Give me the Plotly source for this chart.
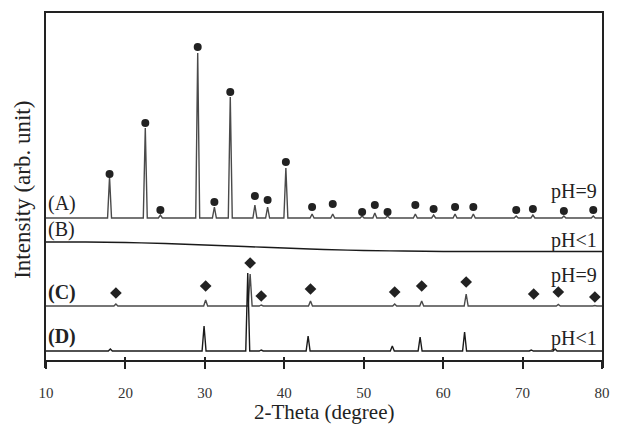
import plotly.graph_objects as go

# ---------------- data ----------------
# pattern (A) pH=9 : peak positions (2-theta), heights, and marker heights above baseline
a_peak_x = [18.0, 22.5, 24.4, 29.1, 31.2, 33.2, 36.3, 37.9, 40.2, 43.5, 46.1, 49.8,
            51.4, 53.0, 56.5, 58.8, 61.5, 63.8, 69.2, 71.3, 75.2, 78.9]
a_peak_h = [41, 90, 3, 165, 11, 121, 13, 11, 50, 4, 4, 2,
            5, 2, 4, 3, 4, 4, 2, 3, 2, 2]
a_mark_h = [44, 95, 8, 171, 16, 126, 22, 18, 56, 11, 14, 6,
            13, 6, 13, 9, 11, 11, 8, 9, 7, 8]

# pattern (B) pH<1 : amorphous, smooth background
b_x = [10, 15, 20, 25, 30, 35, 40, 45, 50, 55, 60, 65, 70, 75, 80]
b_y = [0, 0, -0.5, -1.5, -3, -4.5, -6, -7.5, -8.5, -9, -9.5, -9.5, -9.5, -9.5, -9.5]

# pattern (C) pH=9
c_peak_x = [18.8, 30.1, 35.7, 37.1, 43.3, 53.9, 57.3, 62.9, 71.4, 74.5, 79.1]
c_peak_h = [2, 6, 32, 1, 5, 2, 5, 12, 0.5, 1.5, 0.5]
c_mark_h = [13, 20, 43, 10, 17, 14, 20, 24, 12, 14, 9]

# pattern (D) pH<1
d_peak_x = [18.1, 29.9, 35.4, 37.1, 43.0, 53.6, 57.1, 62.7, 71.1, 74.1, 79.1]
d_peak_h = [2, 25, 78, 1, 15, 5, 14, 19, 1, 2, 0.5]

# vertical offsets of the stacked patterns (arbitrary units)
offsets = {"A": 150, "B": 126, "C": 62, "D": 17}

x_ticks = [10, 20, 30, 40, 50, 60, 70, 80]
labels_left = ["(A)", "(B)", "(C)", "(D)"]
labels_right = ["pH=9", "pH<1", "pH=9", "pH<1"]

SERIF = "Liberation Serif"
HALF_W = 0.25


def profile(px, ph, base):
    xs, ys = [10.0], [base]
    for x, h in zip(px, ph):
        xs += [x - HALF_W, x, x + HALF_W]
        ys += [base, base + h, base]
    xs.append(80.0)
    ys.append(base)
    return xs, ys


fig = go.Figure()

line_cols = {"A": "#4a4a4a", "B": "#1a1a1a", "C": "#4a4a4a", "D": "#1a1a1a"}

ax, ay = profile(a_peak_x, a_peak_h, offsets["A"])
fig.add_trace(go.Scatter(x=ax, y=ay, mode="lines",
                         line=dict(color=line_cols["A"], width=1.4), showlegend=False))
fig.add_trace(go.Scatter(x=b_x, y=[offsets["B"] + v for v in b_y], mode="lines",
                         line=dict(color=line_cols["B"], width=1.4, shape="spline"),
                         showlegend=False))
cx, cy = profile(c_peak_x, c_peak_h, offsets["C"])
fig.add_trace(go.Scatter(x=cx, y=cy, mode="lines",
                         line=dict(color=line_cols["C"], width=1.4), showlegend=False))
dx, dy = profile(d_peak_x, d_peak_h, offsets["D"])
fig.add_trace(go.Scatter(x=dx, y=dy, mode="lines",
                         line=dict(color=line_cols["D"], width=1.4), showlegend=False))

# phase markers
fig.add_trace(go.Scatter(x=a_peak_x, y=[offsets["A"] + h for h in a_mark_h], mode="markers",
                         marker=dict(symbol="circle", size=8, color="#222"),
                         showlegend=False))
fig.add_trace(go.Scatter(x=c_peak_x, y=[offsets["C"] + h for h in c_mark_h], mode="markers",
                         marker=dict(symbol="diamond", size=9, color="#222"),
                         showlegend=False))

# text labels
left_y = [165, 139, 76, 32]
right_y = [177, 128, 93, 30]
for i, (lt, rt) in enumerate(zip(labels_left, labels_right)):
    bold = i >= 2
    fig.add_annotation(x=10, y=left_y[i], xref="x", yref="y", text=(f"<b>{lt}</b>" if bold else lt),
                       showarrow=False, xanchor="left", yanchor="middle", xshift=0,
                       font=dict(family=SERIF, size=20, color="#222"))
    fig.add_annotation(x=80, y=right_y[i], xref="x", yref="y", text=rt,
                       showarrow=False, xanchor="right", yanchor="middle", xshift=-3,
                       font=dict(family=SERIF, size=20, color="#222"))

# axis titles
fig.add_annotation(x=-24 / 564, y=0.5, xref="paper", yref="paper", text="Intensity (arb. unit)",
                   textangle=-90, showarrow=False, xanchor="center", yanchor="middle",
                   yshift=1,
                   font=dict(family=SERIF, size=23, color="#222"))
fig.add_annotation(x=0.5, y=-44 / 355, xref="paper", yref="paper", text="2-Theta (degree)",
                   showarrow=False, xanchor="center", yanchor="middle",
                   font=dict(family=SERIF, size=21, color="#222"))

axis_pos = 7 / 355
fig.update_layout(
    width=620, height=432,
    margin=dict(l=46, r=10, t=13, b=64),
    paper_bgcolor="white", plot_bgcolor="white",
    xaxis=dict(range=[10, 80], anchor="free", position=axis_pos,
               tickvals=x_ticks, ticktext=[str(t) for t in x_ticks],
               ticks="outside", ticklen=7, tickwidth=1.5, tickcolor="#222",
               showline=True, linecolor="#222", linewidth=1.6,
               showgrid=False, zeroline=False, ticklabelstandoff=11,
               tickfont=dict(family=SERIF, size=15, color="#333")),
    xaxis2=dict(range=[10, 80], overlaying="x", anchor="free", position=axis_pos,
                tickvals=x_ticks, ticks="inside", ticklen=4, tickwidth=1.5, tickcolor="#222",
                showticklabels=False, showgrid=False, zeroline=False, showline=False),
    xaxis3=dict(range=[10, 80], overlaying="x", side="top", anchor="y",
                showline=True, linecolor="#222", linewidth=1.8, ticks="",
                showticklabels=False, showgrid=False, zeroline=False),
    yaxis=dict(range=[0, 355], showline=True, mirror=True, linecolor="#222", linewidth=1.8,
               ticks="", showticklabels=False, showgrid=False, zeroline=False),
)
# invisible traces so the overlay axes are drawn
fig.add_trace(go.Scatter(x=[10], y=[0], xaxis="x2", mode="markers", marker=dict(opacity=0),
                         showlegend=False, hoverinfo="skip"))
fig.add_trace(go.Scatter(x=[10], y=[0], xaxis="x3", mode="markers", marker=dict(opacity=0),
                         showlegend=False, hoverinfo="skip"))

fig.write_html("out.html")
